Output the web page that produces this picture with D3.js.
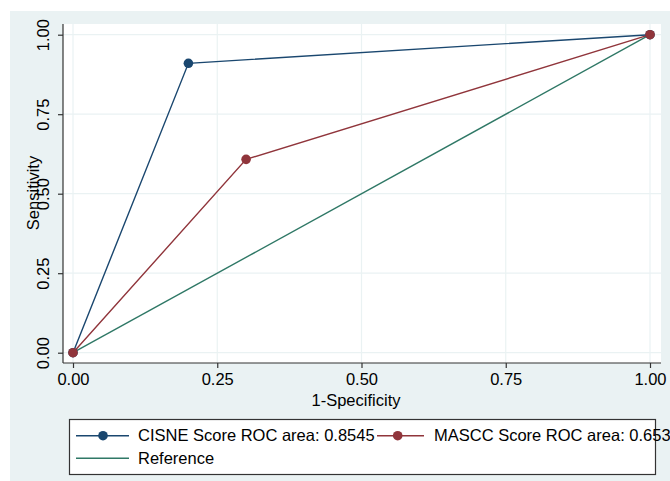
<!DOCTYPE html>
<html><head><meta charset="utf-8">
<script src="https://cdn.jsdelivr.net/npm/d3@7"></script>
<style>body{margin:0;background:#fff;}svg{display:block;font-family:"Liberation Sans",Arial,sans-serif;}</style>
</head><body><svg id="c" width="670" height="481"></svg>
<script>
const cisneX = [0, 0.2, 1];
const cisneY = [0, 0.91, 1];
const masccX = [0, 0.3, 1];
const masccY = [0, 0.608, 1];
const refX = [0, 1];
const refY = [0, 1];
const tickValues = [0, 0.25, 0.5, 0.75, 1];
const seriesNames = ["CISNE Score ROC area: 0.8545", "MASCC Score ROC area: 0.6534", "Reference"];
const colors = ["#1a476f", "#90353b", "#2f7866"];

const svg = d3.select("#c");
svg.append("rect").attr("x",10).attr("y",11).attr("width",660).attr("height",470).attr("fill","#eaf2f3");
const pl = 63, pr = 661, pt = 24, pb = 363;
svg.append("rect").attr("x",pl).attr("y",pt).attr("width",pr-pl).attr("height",pb-pt).attr("fill","#fff");
const x = d3.scaleLinear().domain([0,1]).range([73,650]);
const y = d3.scaleLinear().domain([0,1]).range([352.7,34.7]);
const fmt = d3.format(".2f");
// grid
svg.append("g").selectAll("line").data(tickValues).join("line")
  .attr("x1",pl).attr("x2",pr).attr("y1",d=>y(d)).attr("y2",d=>y(d)).attr("stroke","#eaf2f3").attr("stroke-width",1.2);
svg.append("g").selectAll("line").data(tickValues).join("line")
  .attr("y1",pt).attr("y2",pb).attr("x1",d=>x(d)).attr("x2",d=>x(d)).attr("stroke","#eaf2f3").attr("stroke-width",1.2);
// axes
const xa = svg.append("g").attr("transform",`translate(0,${pb})`)
  .call(d3.axisBottom(x).tickValues(tickValues).tickFormat(fmt).tickSizeOuter(0).tickSize(5).tickPadding(5));
xa.select(".domain").attr("d",`M${pl},0H${pr}`);
const ya = svg.append("g").attr("transform",`translate(${pl},0)`)
  .call(d3.axisLeft(y).tickValues(tickValues).tickFormat(fmt).tickSizeOuter(0).tickSize(5));
ya.select(".domain").attr("d",`M0,${pt}V${pb}`);
[xa,ya].forEach(a=>{a.selectAll("path,line").attr("stroke","#333").attr("stroke-width",1.2);
  a.selectAll("text").attr("font-size",16.5).attr("fill","#000").attr("font-family","Liberation Sans, Arial, sans-serif");});
ya.selectAll(".tick text").attr("transform","rotate(-90)").attr("x",0).attr("y",-20).attr("dy","0.35em").attr("text-anchor","middle");
xa.selectAll(".tick text").attr("dy","0.71em");
svg.append("text").attr("x",356).attr("y",406).attr("text-anchor","middle").attr("font-size",16.5).text("1-Specificity");
svg.append("text").attr("transform","translate(38.5,193) rotate(-90)").attr("text-anchor","middle").attr("font-size",16.5).text("Sensitivity");
// lines
const line = d3.line().x(d=>x(d[0])).y(d=>y(d[1]));
const ref = d3.zip(refX, refY), cis = d3.zip(cisneX, cisneY), mas = d3.zip(masccX, masccY);
svg.append("path").attr("d",line(ref)).attr("fill","none").attr("stroke",colors[2]).attr("stroke-width",1.4);
svg.append("path").attr("d",line(mas)).attr("fill","none").attr("stroke",colors[1]).attr("stroke-width",1.4);
svg.append("path").attr("d",line(cis)).attr("fill","none").attr("stroke",colors[0]).attr("stroke-width",1.4);
svg.append("g").selectAll("circle").data(cis).join("circle").attr("cx",d=>x(d[0])).attr("cy",d=>y(d[1])).attr("r",4.8).attr("fill",colors[0]);
svg.append("g").selectAll("circle").data(mas).join("circle").attr("cx",d=>x(d[0])).attr("cy",d=>y(d[1])).attr("r",4.8).attr("fill",colors[1]);
// legend
svg.append("rect").attr("x",69.5).attr("y",419.5).attr("width",586).attr("height",55).attr("fill","#fff").attr("stroke","#333").attr("stroke-width",1.2);
const lg = svg.append("g").attr("font-size",16.5);
const l1 = 435.7, l2 = 458.3;
lg.append("line").attr("x1",76).attr("x2",129).attr("y1",l1).attr("y2",l1).attr("stroke",colors[0]).attr("stroke-width",1.4);
lg.append("circle").attr("cx",103).attr("cy",l1).attr("r",4.8).attr("fill",colors[0]);
lg.append("text").attr("x",138).attr("y",l1).attr("dy","0.35em").text(seriesNames[0]);
lg.append("line").attr("x1",377).attr("x2",424).attr("y1",l1).attr("y2",l1).attr("stroke",colors[1]).attr("stroke-width",1.4);
lg.append("circle").attr("cx",397.7).attr("cy",l1).attr("r",4.8).attr("fill",colors[1]);
lg.append("text").attr("x",434).attr("y",l1).attr("dy","0.35em").text(seriesNames[1]);
lg.append("line").attr("x1",76).attr("x2",129).attr("y1",l2).attr("y2",l2).attr("stroke",colors[2]).attr("stroke-width",1.4);
lg.append("text").attr("x",138).attr("y",l2).attr("dy","0.35em").text(seriesNames[2]);
</script></body></html>
